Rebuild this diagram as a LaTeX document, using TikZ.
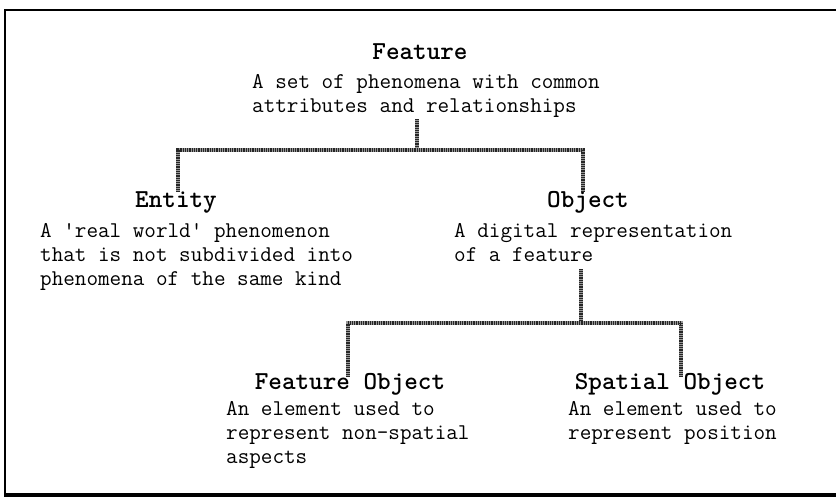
\documentclass[tikz,border=0pt]{standalone}
\usetikzlibrary{positioning}

\begin{document}
\begin{tikzpicture}[x=1pt,y=-1pt,
  title/.style={font=\fontsize{25.9}{28}\selectfont\ttfamily\bfseries,anchor=base,inner sep=0pt,text height=0.62em},
  desc/.style={font=\fontsize{22.5}{24}\selectfont\ttfamily,align=left,anchor=north west,inner sep=0pt},
  link/.style={draw=black!40,line width=3.2pt,postaction={draw=black!85,line width=3.2pt,dash pattern=on 0.9pt off 0.9pt}}]
  \useasboundingbox (0,0) rectangle (836,498);
  % frame, open on the right
  \draw[line width=1.6pt] (840,10) -- (5,10) -- (5,495);
  \draw[line width=3.5pt] (4,495) -- (840,495);
  % top level
  \node[title] (feat) at (420,59) {Feature};
  \node[desc] (featdesc) at (252,71) {\strut A set of phenomena with common\\attributes and relationships};
  % second level
  \node[title] (ent) at (176,207) {Entity};
  \node[desc] (entdesc) at (40,220) {\strut A \textquotesingle real world\textquotesingle{} phenomenon\\that is not subdivided into\\phenomena of the same kind};
  \node[title] (obj) at (588,207) {Object};
  \node[desc] (objdesc) at (454,220) {\strut A digital representation\\of a feature};
  % third level
  \node[title] (fobj) at (350,389) {Feature Object};
  \node[desc] (fobjdesc) at (226,398) {\strut An element used to\\represent non-spatial\\aspects};
  \node[title] (sobj) at (670,389) {Spatial Object};
  \node[desc] (sobjdesc) at (568,398) {\strut An element used to\\represent position};
  % tree links
  \coordinate (fork1) at (417,150);
  \coordinate (fork2) at (581,323);
  \draw[link] (fork1 |- featdesc.south) ++(0,2) -- (fork1);
  \draw[link] ([xshift=2pt,yshift=9pt]ent.north) |- (fork1) -| ([xshift=-5pt,yshift=9pt]obj.north);
  \draw[link] (fork2 |- objdesc.south) ++(0,8) -- (fork2);
  \draw[link] ([xshift=-2pt,yshift=6pt]fobj.north) |- (fork2) -| ([xshift=11pt,yshift=6pt]sobj.north);
\end{tikzpicture}
\end{document}
